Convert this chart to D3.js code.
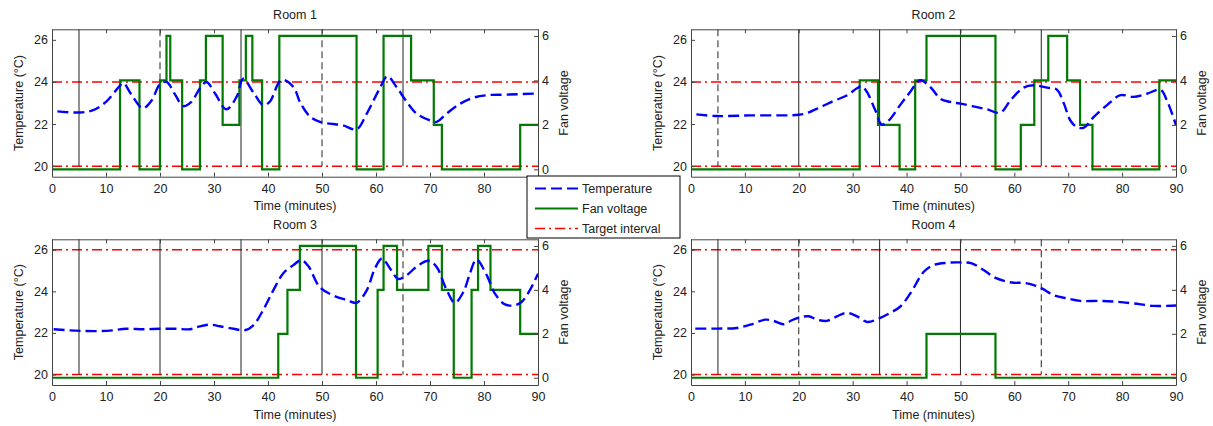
<!DOCTYPE html>
<html>
<head>
<meta charset="utf-8">
<script src="https://cdn.jsdelivr.net/npm/d3@7"></script>
<style>
body { margin: 0; background: #fff; }
svg { display: block; }
text { font-family: "Liberation Sans", Arial, sans-serif; fill: #222; }
</style>
</head>
<body>
<svg id="chart" width="1213" height="426"></svg>
<script>
// temperature readings (minutes, deg C)
const minutes1 = [1, 5, 7.5, 10, 12.5, 13.2, 14.7, 16.8, 18.4, 20, 21.2, 22.8, 24.3, 25.8, 27.4, 28.6, 30.2, 32.3, 34.2, 35.4, 37.3, 39.1, 40.3, 42.5, 44.7, 46, 47.8, 49.6, 52.1, 53.9, 56.4, 58.3, 60.7, 62.1, 63.8, 65.7, 67.5, 70, 71.2, 73.1, 75.6, 78, 80.5, 84.2, 90];
const temp1 = [22.6, 22.55, 22.65, 23.05, 23.8, 23.95, 23.4, 22.75, 23.1, 23.9, 24.0, 23.4, 22.85, 23.05, 23.7, 24.0, 23.45, 22.7, 23.3, 24.15, 23.5, 22.9, 23.05, 24.1, 23.76, 23.0, 22.35, 22.1, 22.0, 21.94, 21.75, 22.5, 23.7, 24.27, 23.76, 23.05, 22.5, 22.17, 22.1, 22.5, 22.97, 23.25, 23.37, 23.4, 23.45];

const minutes2 = [1, 4.8, 11, 20, 21.5, 24, 26.5, 29, 30.8, 31.7, 32.7, 34.2, 35.4, 36.7, 38.8, 40.6, 42.5, 44.4, 46.3, 48.1, 50, 52.4, 54.9, 57.4, 59.3, 61.7, 63.6, 66.1, 67.9, 69.2, 70.4, 71.6, 72.9, 74.7, 77.2, 79.7, 82.1, 84.6, 87.1, 88.3, 90];
const temp2 = [22.46, 22.38, 22.41, 22.44, 22.52, 22.8, 23.1, 23.37, 23.7, 23.8, 23.5, 22.65, 21.98, 22.17, 22.9, 23.5, 24.08, 23.76, 23.2, 23.05, 22.97, 22.84, 22.7, 22.54, 23.13, 23.73, 23.84, 23.73, 23.63, 22.97, 22.17, 21.86, 21.83, 22.33, 22.9, 23.37, 23.29, 23.44, 23.63, 23.13, 21.95];

const minutes3 = [0.3, 5.2, 10.1, 13.8, 16.9, 20, 23.1, 25.6, 27.4, 29.3, 31.1, 33.6, 35.7, 37.3, 39.1, 41, 42.8, 44.7, 46.2, 47.5, 49.6, 52.1, 54.6, 56.4, 58.3, 59.8, 61.1, 62.6, 64.1, 65.7, 67.5, 69.7, 71.2, 73.1, 74.6, 76.2, 77.4, 78.6, 80.5, 82, 83.9, 85.7, 87, 88.5, 90];
const temp3 = [22.18, 22.1, 22.1, 22.2, 22.18, 22.2, 22.2, 22.18, 22.32, 22.4, 22.32, 22.2, 22.13, 22.37, 23.1, 24.06, 24.86, 25.26, 25.5, 25.2, 24.2, 23.8, 23.58, 23.45, 24.06, 25.1, 25.58, 25.1, 24.6, 24.78, 25.18, 25.47, 25.18, 24.06, 23.45, 23.98, 24.86, 25.53, 24.78, 23.9, 23.37, 23.33, 23.5, 24.06, 24.85];

const minutes4 = [0.8, 4.8, 8.5, 11, 13.8, 15.3, 17.2, 18.7, 20.1, 21.8, 23.4, 25.2, 27.1, 28.9, 30.8, 32.7, 34.8, 37, 38.8, 40.7, 43.2, 45, 47.5, 50, 52.1, 54.3, 56.1, 58.1, 59.9, 61.7, 63.6, 65.1, 67.3, 69.8, 72.2, 75.9, 79, 82.1, 85.8, 90];
const temp4 = [22.21, 22.21, 22.24, 22.4, 22.64, 22.58, 22.42, 22.61, 22.74, 22.8, 22.64, 22.58, 22.8, 22.97, 22.8, 22.53, 22.69, 22.97, 23.26, 23.9, 24.94, 25.26, 25.37, 25.39, 25.34, 25.02, 24.7, 24.5, 24.41, 24.41, 24.3, 24.14, 23.82, 23.66, 23.54, 23.54, 23.5, 23.42, 23.3, 23.32];

// fan voltage steps (time of change, new voltage)
const fanTimes1 = [0, 12.6, 16.2, 20, 21.2, 21.9, 24.1, 27.4, 28.5, 31.6, 34.7, 35.9, 37.1, 38.9, 42.1, 56.4, 61.4, 66.5, 70.7, 72.2, 86.7, 90];
const fanVolts1 = [0, 4, 0, 4, 6, 4, 0, 4, 6, 2, 4, 6, 4, 0, 6, 0, 6, 4, 2, 0, 2, 2];
const fanTimes2 = [0, 31.3, 34.7, 38.7, 41.6, 43.7, 56.5, 61.2, 63.7, 66.3, 69.8, 72.2, 74.5, 86.9, 90];
const fanVolts2 = [0, 4, 2, 0, 4, 6, 0, 2, 4, 6, 4, 2, 0, 4, 4];
const fanTimes3 = [0, 41.9, 43.6, 45.9, 56.3, 60.3, 61.4, 63.9, 69.7, 72.2, 74.4, 77.7, 78.9, 81.2, 86.7, 90];
const fanVolts3 = [0, 2, 4, 6, 0, 4, 6, 4, 6, 4, 0, 4, 6, 4, 2, 2];
const fanTimes4 = [0, 43.7, 56.5, 90];
const fanVolts4 = [0, 2, 0, 0];

// target interval per room
const target1 = [20, 24];
const target2 = [20, 24];
const target3 = [20, 26];
const target4 = [20, 26];

// vertical event markers
const eventTimes = [5, 20, 35, 50, 65];
const eventDash1 = [false, true, false, true, false];
const eventDash2 = [true, false, false, false, false];
const eventDash3 = [false, false, false, false, true];
const eventDash4 = [false, true, false, false, true];

const roomNames = ["Room 1", "Room 2", "Room 3", "Room 4"];
const timeTicks = [0, 10, 20, 30, 40, 50, 60, 70, 80, 90];
const tempTicks = [20, 22, 24, 26];
const fanTicks = [0, 2, 4, 6];
const legendLabels = ["Temperature", "Fan voltage", "Target interval"];

const rooms = [
    { name: roomNames[0], t: minutes1, temp: temp1, ft: fanTimes1, fv: fanVolts1, target: target1, dash: eventDash1 },
    { name: roomNames[1], t: minutes2, temp: temp2, ft: fanTimes2, fv: fanVolts2, target: target2, dash: eventDash2 },
    { name: roomNames[2], t: minutes3, temp: temp3, ft: fanTimes3, fv: fanVolts3, target: target3, dash: eventDash3 },
    { name: roomNames[3], t: minutes4, temp: temp4, ft: fanTimes4, fv: fanVolts4, target: target4, dash: eventDash4 }
];

const cols = [{ left: 52, right: 538 }, { left: 691, right: 1176 }];
const rows = [{ top: 29.3, bottom: 176.7 }, { top: 239.3, bottom: 385 }];

const BLUE = "#0000ff", GREEN = "#007a00", RED = "#ff0000", AXIS = "#444";
const fmt = d3.format("d");

const svg = d3.select("#chart");

rooms.forEach((room, i) => {
    const c = cols[i % 2], r = rows[Math.floor(i / 2)];
    const x = d3.scaleLinear().domain([0, 90]).range([c.left, c.right]);
    const yT = d3.scaleLinear().domain([19.5, 26.5]).range([r.bottom, r.top]);
    const yF = d3.scaleLinear().domain([-0.33, 6.3]).range([r.bottom, r.top]);
    const g = svg.append("g");

    // target interval
    room.target.forEach(v => {
        g.append("line")
            .attr("x1", x(0)).attr("x2", x(90))
            .attr("y1", yT(v)).attr("y2", yT(v))
            .attr("stroke", RED).attr("stroke-width", 1.5)
            .attr("stroke-dasharray", "10,4,2,4");
    });

    // event lines
    eventTimes.forEach((t, k) => {
        g.append("line")
            .attr("x1", x(t)).attr("x2", x(t))
            .attr("y1", r.top).attr("y2", yT(20))
            .attr("stroke", "#222").attr("stroke-width", 1)
            .attr("stroke-dasharray", room.dash[k] ? "7,4" : null);
    });

    // fan voltage
    const fanLine = d3.line()
        .x(d => x(d[0])).y(d => yF(d[1]))
        .curve(d3.curveStepAfter);
    g.append("path")
        .datum(room.ft.map((t, k) => [t, room.fv[k]]))
        .attr("d", fanLine)
        .attr("fill", "none").attr("stroke", GREEN).attr("stroke-width", 2.2);

    // temperature
    const tempLine = d3.line()
        .x(d => x(d[0])).y(d => yT(d[1]))
        .curve(d3.curveCatmullRom.alpha(0.5));
    g.append("path")
        .datum(room.t.map((t, k) => [t, room.temp[k]]))
        .attr("d", tempLine)
        .attr("fill", "none").attr("stroke", BLUE).attr("stroke-width", 2.4)
        .attr("stroke-dasharray", "11,5");

    // axes
    const ax = g.append("g");
    ax.append("g").attr("transform", `translate(0,${r.bottom})`)
        .call(d3.axisBottom(x).tickValues(timeTicks).tickFormat(fmt).tickSize(-4).tickSizeOuter(0).tickPadding(7));
    ax.append("g").attr("transform", `translate(0,${r.top})`)
        .call(d3.axisTop(x).tickValues(timeTicks).tickSize(-4).tickSizeOuter(0).tickFormat(""));
    ax.append("g").attr("transform", `translate(${c.left},0)`)
        .call(d3.axisLeft(yT).tickValues(tempTicks).tickFormat(fmt).tickSize(-4).tickSizeOuter(0).tickPadding(4));
    ax.append("g").attr("transform", `translate(${c.right},0)`)
        .call(d3.axisRight(yF).tickValues(fanTicks).tickFormat(fmt).tickSize(-4).tickSizeOuter(0).tickPadding(4));
    ax.selectAll("path.domain").attr("stroke", AXIS);
    ax.selectAll(".tick line").attr("stroke", AXIS);
    ax.selectAll("text")
        .attr("font-family", '"Liberation Sans", Arial, sans-serif')
        .attr("font-size", 12.5).attr("fill", "#222");

    const mid = (c.left + c.right) / 2;
    g.append("text").attr("x", mid).attr("y", r.top - 10)
        .attr("text-anchor", "middle").attr("font-size", 12.5).text(room.name);
    g.append("text").attr("x", mid).attr("y", r.bottom + 33.5)
        .attr("text-anchor", "middle").attr("font-size", 12.5).text("Time (minutes)");
    g.append("text")
        .attr("transform", `translate(${c.left - 29},${(r.top + r.bottom) / 2}) rotate(-90)`)
        .attr("text-anchor", "middle").attr("font-size", 12.5).text("Temperature (°C)");
    g.append("text")
        .attr("transform", `translate(${c.right + 30},${(r.top + r.bottom) / 2}) rotate(-90)`)
        .attr("text-anchor", "middle").attr("font-size", 12.5).text("Fan voltage");
});

// legend
const lg = svg.append("g").attr("transform", "translate(527,176)");
lg.append("rect").attr("width", 153).attr("height", 62)
    .attr("fill", "#fff").attr("stroke", "#000").attr("stroke-width", 1);
const legendStyles = [
    { color: BLUE, dash: "11,5", w: 2 },
    { color: GREEN, dash: null, w: 2 },
    { color: RED, dash: "10,4,2,4", w: 1.5 }
];
legendLabels.forEach((label, k) => {
    const y = 12.5 + k * 20;
    lg.append("line").attr("x1", 8).attr("x2", 51).attr("y1", y).attr("y2", y)
        .attr("stroke", legendStyles[k].color).attr("stroke-width", legendStyles[k].w)
        .attr("stroke-dasharray", legendStyles[k].dash);
    lg.append("text").attr("x", 55).attr("y", y + 4.5).attr("font-size", 12.5).text(label);
});
</script>
</body>
</html>
